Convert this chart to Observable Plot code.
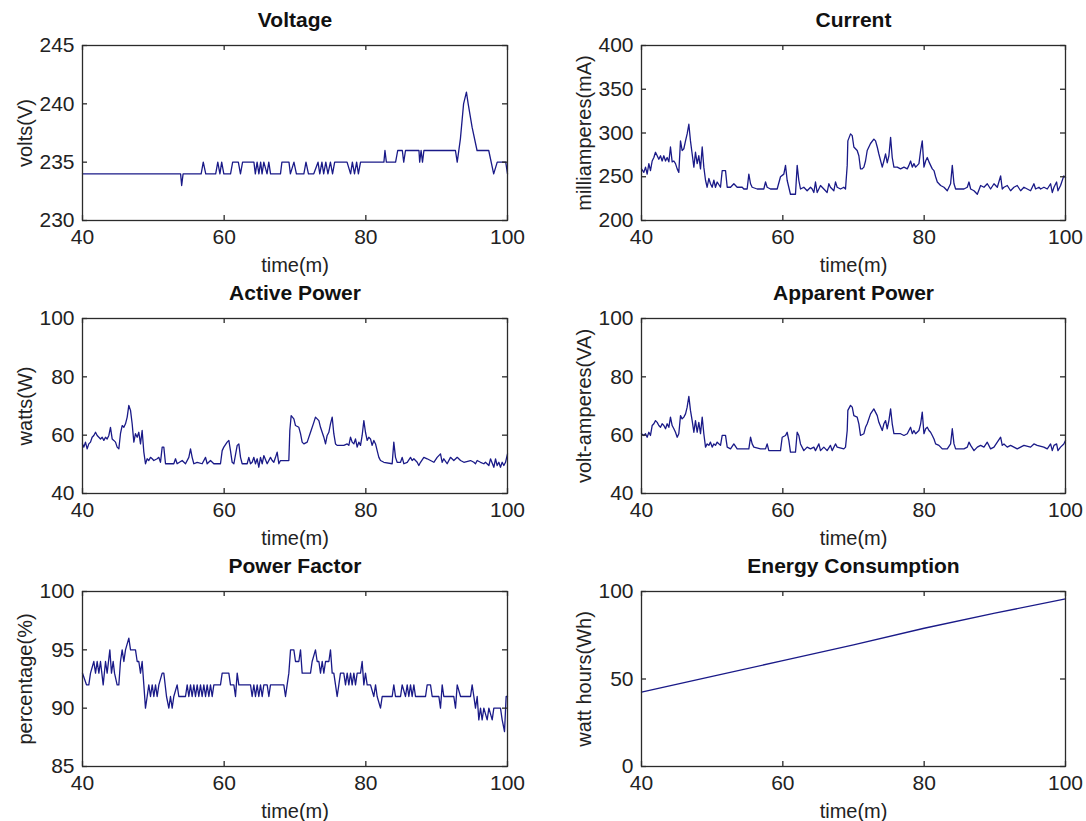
<!DOCTYPE html>
<html><head><meta charset="utf-8">
<script src="https://cdn.jsdelivr.net/npm/d3@7"></script>
<script src="https://cdn.jsdelivr.net/npm/@observablehq/plot@0.6"></script>
<style>
body{margin:0;background:#fff;}
#root{position:relative;width:1086px;height:821px;background:#fff;}
#root svg{position:absolute;overflow:visible;}
</style></head><body><div id="root"></div>
<script>
// ---------- data (time in minutes) ----------
const xTicks = [40, 60, 80, 100];

const voltT = [40,53.85,54.0,54.2,56.75,57.05,57.4,58.8,59.1,59.4,
59.65,59.95,60.9,61.2,62.0,62.3,62.6,64.2,64.4,64.65,
64.9,65.15,65.35,65.6,66.05,66.3,66.55,67.95,68.15,69.15,
69.35,69.85,70.2,71.25,71.55,71.9,72.65,73.25,73.5,73.8,
74.05,74.35,74.65,75.0,75.3,75.6,77.35,77.85,78.1,78.4,
78.7,78.95,79.25,79.7,82.55,82.7,82.9,84.2,84.5,85.15,
85.35,85.6,87.5,87.6,87.8,88.0,88.2,92.65,92.9,93.35,
93.8,94.2,94.45,95.0,95.7,97.35,98.05,98.55,99.75,100];
const voltV = [234,234,233,234,234,235,234,234,235,234,
235,234,234,235,235,234,235,235,234,235,
234,235,234,235,234,235,234,234,235,235,
234,235,234,234,235,234,234,235,234,235,
234,235,234,235,234,235,235,234,235,234,
235,234,235,235,235,236,235,235,236,236,
235,236,236,235,236,235,236,236,235,237,
240,241,240,238,236,236,234,235,235,234];
const voltTicks = [230, 235, 240, 245];

const currT = [40,40.33,40.57,40.8,41.04,41.27,41.51,41.75,41.98,42.22,
42.45,42.69,42.92,43.16,43.4,43.63,43.87,44.1,44.34,44.58,
44.81,45.05,45.28,45.52,45.75,45.99,46.23,46.46,46.7,46.93,
47.17,47.41,47.64,47.88,48.11,48.35,48.59,48.82,49.06,49.29,
49.53,49.76,50,50.24,50.47,50.71,51.18,51.42,51.89,52.13,
52.6,53.07,53.54,54.25,54.48,54.95,55.19,55.43,55.66,56.37,
57.31,57.55,57.78,58.25,59.2,59.67,60.14,60.38,60.61,61.08,
61.79,62.03,62.26,62.5,62.97,63.44,63.92,64.15,64.39,64.62,
64.86,65.33,65.8,66.27,66.51,66.74,67.22,67.45,67.69,68.16,
68.63,68.87,69.11,69.2,69.58,69.82,70.05,70.52,70.76,70.99,
71.23,71.47,71.7,71.94,72.41,72.88,73.12,73.36,73.59,74.07,
74.3,74.54,74.77,75.01,75.25,75.48,75.72,76.19,76.66,77.14,
77.61,77.84,78.08,78.32,78.55,78.79,79.03,79.26,79.5,79.73,
79.97,80.21,80.44,80.68,80.91,81.15,81.39,81.62,81.86,82.33,
82.8,83.27,83.74,83.98,84.22,84.45,85.16,85.63,86.1,86.34,
86.58,87.05,87.52,87.99,88.46,88.93,89.4,89.88,90.35,90.82,
91.05,91.29,91.76,92.23,92.7,93.17,93.65,94.12,94.59,95.06,
95.53,95.77,96.24,96.48,96.95,97.42,97.89,98.13,98.37,98.74,
98.93,99.3,99.76,100];
const currV = [259,255,261,253,265,257,268,272,278,274,
270,274,268,274,268,272,267,284,267,268,
265,259,255,291,280,282,291,299,310,291,
276,261,278,265,274,259,284,261,246,238,
248,242,238,246,238,244,238,257,257,238,
238,242,238,238,236,236,253,242,238,236,
236,244,238,236,236,250,253,263,246,230,
230,263,246,236,238,234,238,236,232,244,
232,240,236,232,242,238,234,244,238,236,
238,236,263,291,299,297,284,280,274,259,
259,261,268,280,288,293,291,284,276,261,
268,276,266,274,295,272,261,261,259,261,
259,263,268,261,265,261,263,265,280,291,
261,268,272,267,263,259,257,250,244,240,
238,234,242,263,242,236,236,236,238,244,
236,234,230,240,238,242,236,242,238,251,
236,238,240,234,238,240,234,238,236,234,
242,236,238,236,238,236,242,232,238,244,
234,240,251,249];
const currTicks = [200, 250, 300, 350, 400];

const activeT = [40,40.19,40.42,40.66,40.89,41.13,41.36,41.6,41.84,42.07,
42.31,42.54,42.78,43.01,43.25,43.48,43.72,43.95,44.19,44.42,
44.66,44.89,45.13,45.36,45.6,45.84,46.07,46.31,46.54,46.78,
47.01,47.25,47.48,47.72,47.95,48.19,48.42,48.66,48.89,49.13,
49.36,49.6,49.84,50.07,50.54,50.78,51.01,51.25,51.48,51.72,
52.89,53.13,53.36,54.07,54.54,55.01,55.25,55.48,55.72,56.19,
56.89,57.37,57.6,58.07,58.54,59.48,59.72,59.95,60.42,60.66,
60.89,61.13,61.37,61.84,62.07,62.31,62.54,63.25,63.48,63.72,
63.95,64.19,64.42,64.66,64.89,65.13,65.37,65.6,66.07,66.54,
66.78,67.01,67.25,67.48,67.72,67.95,69.13,69.27,69.46,69.84,
70.07,70.54,70.78,71.01,71.25,71.72,72.19,72.66,72.89,73.37,
73.6,74.07,74.31,74.54,74.78,75.01,75.25,75.48,75.72,75.95,
76.89,77.37,77.6,77.84,78.07,78.31,78.54,78.78,79.01,79.25,
79.48,79.72,79.95,80.19,80.42,80.66,80.89,81.13,81.37,81.6,
81.84,82.07,82.54,83.72,83.95,84.19,84.42,84.9,85.13,85.37,
85.84,86.31,86.54,86.78,87.25,87.48,87.72,88.19,88.66,89.13,
89.6,90.07,90.54,90.78,91.01,91.48,91.95,92.42,92.9,93.37,
93.84,94.78,95.25,95.48,95.72,96.19,96.66,96.89,97.37,97.6,
98.07,98.31,98.54,98.78,99.01,99.25,99.48,99.72,100];
const activeV = [57.0,55.9,57.6,55.3,57.0,57.6,59.3,59.9,61.0,59.9,
59.3,58.7,59.3,58.2,59.3,58.7,59.9,62.7,58.7,58.2,
57.6,55.9,55.3,60.5,63.3,62.7,63.9,66.2,70.2,68.5,
63.9,57.6,60.5,59.3,61.0,57.0,61.6,54.2,50.2,51.9,
51.3,52.4,51.9,51.3,51.9,52.4,50.7,55.9,55.9,50.2,
50.2,51.9,50.2,51.3,50.2,52.4,55.3,52.4,50.2,50.7,
50.2,52.4,50.2,51.3,50.2,50.2,54.7,55.9,57.6,58.2,
54.7,50.7,50.2,56.5,57.0,52.4,50.2,50.2,52.4,50.2,
50.7,52.4,50.2,51.9,49.0,52.4,50.2,53.0,50.2,52.4,
51.3,50.7,52.4,54.2,50.2,51.3,51.3,61.6,66.7,65.6,
63.3,62.7,60.5,57.6,57.0,57.6,61.0,64.4,66.2,65.0,
62.7,59.3,57.0,59.9,61.0,63.9,66.2,60.5,57.0,56.5,
56.5,57.0,56.5,59.3,57.6,57.0,58.7,55.9,57.6,56.5,
59.9,65.0,61.0,58.2,59.3,58.7,56.5,58.2,57.0,54.7,
52.4,51.3,50.7,50.2,57.6,52.4,50.7,50.7,52.4,50.2,
50.7,52.4,51.3,51.9,50.7,49.6,50.7,52.4,51.9,51.3,
50.7,52.4,53.6,50.7,51.9,50.2,52.4,51.3,52.4,51.3,
50.7,51.3,50.7,50.2,51.3,50.7,50.2,50.7,49.6,51.9,
49.0,51.9,49.6,50.7,49.0,50.7,49.6,50.7,53.6];
const powerTicks = [40, 60, 80, 100];

const apparentT = [40,40.33,40.57,40.8,41.04,41.27,41.51,41.75,41.98,42.22,
42.45,42.69,42.92,43.16,43.4,43.63,43.87,44.1,44.34,44.58,
44.81,45.05,45.28,45.52,45.75,45.99,46.23,46.46,46.7,46.93,
47.17,47.41,47.64,47.88,48.11,48.35,48.59,48.82,49.06,49.29,
49.53,49.76,50.0,50.24,50.47,50.71,51.18,51.42,51.89,52.13,
52.6,53.07,53.54,55.19,55.43,55.66,55.9,56.84,57.55,57.78,
58.02,59.67,59.91,60.38,60.61,60.85,61.08,61.79,62.03,62.26,
62.5,62.97,63.44,63.92,64.39,64.62,65.1,65.33,65.8,66.27,
66.74,66.98,67.45,67.69,68.63,68.87,69.11,69.2,69.58,69.82,
70.05,70.52,70.76,70.99,71.47,71.7,71.94,72.41,72.88,73.36,
73.59,74.07,74.3,74.54,74.77,75.01,75.25,75.48,75.72,76.66,
77.14,77.61,77.84,78.08,78.32,78.55,78.79,79.26,79.5,79.73,
79.97,80.21,80.44,80.68,80.91,81.15,81.39,81.62,82.09,82.56,
83.27,83.74,83.98,84.22,84.45,85.63,86.1,86.34,86.58,87.05,
87.52,87.99,88.46,88.93,89.4,89.88,90.35,90.82,91.05,91.29,
91.76,92.23,92.7,93.17,94.12,95.06,95.53,95.99,96.93,97.42,
97.89,98.13,98.37,98.74,98.93,99.3,99.76,100];
const apparentV = [60.5,59.9,60.5,59.3,61.0,59.9,63.3,63.9,65.0,64.4,
63.3,62.7,63.9,63.3,62.2,63.9,62.7,66.2,63.3,62.2,
61.0,59.3,60.5,66.7,65.6,66.2,67.3,69.6,73.3,68.5,
65.0,61.0,65.0,61.0,64.4,60.5,66.2,60.5,55.9,57.0,
56.5,57.6,55.9,57.0,56.5,57.6,56.5,59.9,59.9,55.9,
55.3,57.0,55.3,55.3,59.3,57.0,55.9,55.3,55.3,57.0,
54.7,54.7,59.3,59.9,61.0,58.2,54.2,54.2,61.0,59.9,
57.0,54.7,55.9,55.3,55.9,54.7,57.0,54.7,55.9,54.7,
56.5,54.7,57.0,55.9,55.3,55.9,61.6,68.5,70.2,69.6,
66.7,66.2,63.9,59.9,60.5,62.7,63.9,67.3,69.0,66.7,
64.4,61.6,63.9,65.0,62.2,65.0,69.0,63.9,60.5,60.5,
59.9,60.5,61.6,62.7,60.5,61.6,60.5,61.6,63.9,67.9,
60.5,62.2,62.7,61.6,61.0,59.9,58.7,57.0,56.5,55.3,
55.3,57.0,62.2,57.0,55.3,55.3,55.9,57.6,56.5,54.7,
55.9,56.5,55.9,57.6,55.3,55.9,57.6,59.3,56.5,57.0,
55.9,56.5,55.9,55.3,56.5,55.9,57.0,56.5,55.9,55.3,
57.0,54.7,56.5,57.0,54.7,55.9,57.0,58.2];

const pfT = [40,40.56,40.89,41.13,41.6,41.84,42.07,42.31,42.54,42.92,
43.25,43.48,43.86,44.09,44.33,44.52,44.89,45.13,45.36,45.6,
45.84,46.07,46.54,46.78,47.48,47.72,47.95,48.19,48.42,48.66,
48.89,49.13,49.36,49.6,49.84,50.07,50.31,50.54,50.78,51.25,
51.48,51.86,52.19,52.42,52.66,52.89,53.36,53.6,54.54,54.78,
55.01,55.25,55.48,55.72,55.95,56.19,56.42,56.66,56.89,57.13,
57.37,57.6,57.84,58.07,58.31,58.54,59.48,59.72,60.66,60.89,
61.37,61.6,61.84,62.07,63.72,63.95,64.19,64.42,64.66,64.89,
65.13,65.37,65.6,66.07,66.31,66.54,68.42,68.66,68.89,69.13,
69.37,69.84,70.07,70.54,70.78,71.01,72.19,72.42,72.89,73.13,
73.37,73.6,73.84,74.07,74.31,74.78,75.01,75.25,75.48,75.72,
75.95,76.19,76.42,76.89,77.13,77.37,77.6,77.84,78.07,78.31,
78.54,78.78,79.25,79.48,79.72,79.95,80.19,80.66,81.13,81.37,
81.6,82.07,82.31,83.72,83.95,84.19,84.9,85.13,85.6,85.84,
86.07,86.31,86.54,86.78,87.01,88.43,88.66,89.13,89.37,90.31,
90.54,90.78,91.01,92.42,92.66,92.9,93.37,94.78,95.01,95.25,
95.48,95.72,95.95,96.19,96.42,96.66,97.13,97.37,97.84,98.07,
99.01,99.25,99.58,99.81,100];
const pfV = [93,92,92,93,94,93,94,93,94,92,
94,93,95,93,94,93,92,92,94,95,
94,95,96,95,95,94,94,93,94,92,
90,91,92,91,92,91,92,91,92,93,
93,91,90,91,90,91,92,91,91,92,
91,92,91,92,91,92,91,92,91,92,
91,92,91,92,91,92,92,93,93,92,
92,91,93,92,92,91,92,91,92,91,
92,91,92,92,91,92,92,91,92,93,
95,95,94,94,95,93,93,94,95,94,
94,93,94,93,94,94,95,93,93,92,
91,92,93,93,92,93,92,93,92,93,
92,93,93,94,92,93,92,92,91,92,
91,90,91,91,92,91,91,92,91,92,
91,92,91,92,91,91,92,92,91,91,
90,92,91,91,90,92,91,91,92,91,
90,91,89,90,89,90,89,90,89,90,
90,89,88,91,91];
const pfTicks = [85, 90, 95, 100];

const energyT = [40, 50, 60, 70, 80, 90, 100];
const energyV = [42.5, 51.5, 60.5, 69.5, 79, 87.6, 95.8];
const energyTicks = [0, 50, 100];

// ---------- layout ----------
const panels = [
  {title:"Voltage", ylabel:"volts(V)", t:voltT, v:voltV, domain:[230,245], ticks:voltTicks, row:0, col:0},
  {title:"Current", ylabel:"milliamperes(mA)", t:currT, v:currV, domain:[200,400], ticks:currTicks, row:0, col:1},
  {title:"Active Power", ylabel:"watts(W)", t:activeT, v:activeV, domain:[40,100], ticks:powerTicks, row:1, col:0},
  {title:"Apparent Power", ylabel:"volt-amperes(VA)", t:apparentT, v:apparentV, domain:[40,100], ticks:powerTicks, row:1, col:1},
  {title:"Power Factor", ylabel:"percentage(%)", t:pfT, v:pfV, domain:[85,100], ticks:pfTicks, row:2, col:0},
  {title:"Energy Consumption", ylabel:"watt hours(Wh)", t:energyT, v:energyV, domain:[0,100], ticks:energyTicks, row:2, col:1}
];

const root = document.getElementById("root");
const W = 543, H = 273, PH = 175, MT = 45;
const axisColor = "#2b2b2b";
const font = "'Liberation Sans', Arial, Helvetica, sans-serif";

for (const cfg of panels) {
  const data = cfg.t.map((t, i) => ({t, v: cfg.v[i]}));
  const mL = cfg.col === 0 ? 82 : 98;
  const mR = cfg.col === 0 ? 36 : 21;
  const pw = W - mL - mR;
  const svg = Plot.plot({
    width: W, height: H,
    marginTop: MT, marginBottom: H - MT - PH, marginLeft: mL, marginRight: mR,
    x: {domain: [40, 100]},
    y: {domain: cfg.domain},
    style: {fontFamily: font, fontSize: "21px", color: "#222", background: "transparent", overflow: "visible"},
    marks: [
      Plot.line(data, {x: "t", y: "v", stroke: "#1a1a88", strokeWidth: 1.3}),
      Plot.frame({stroke: axisColor, strokeWidth: 1.3}),
      Plot.tickX(xTicks, {x: d => d, insetTop: PH - 5, stroke: axisColor, strokeWidth: 1.3}),
      Plot.tickX(xTicks, {x: d => d, insetBottom: PH - 5, stroke: axisColor, strokeWidth: 1.3}),
      Plot.tickY(cfg.ticks, {y: d => d, insetRight: pw - 5, stroke: axisColor, strokeWidth: 1.3}),
      Plot.tickY(cfg.ticks, {y: d => d, insetLeft: pw - 5, stroke: axisColor, strokeWidth: 1.3}),
      Plot.axisX(xTicks, {tickSize: 0, tickPadding: 9, fontSize: 21, label: null}),
      Plot.axisY(cfg.ticks, {tickSize: 0, tickPadding: 8, fontSize: 21, label: null}),
      Plot.text([cfg.title], {text: d => d, frameAnchor: "top", lineAnchor: "middle", dy: -25, fontSize: 21, fontWeight: "bold", fill: "#111"}),
      Plot.text(["time(m)"], {text: d => d, frameAnchor: "bottom", lineAnchor: "middle", dy: 45, fontSize: 20}),
      Plot.text([cfg.ylabel], {text: d => d, frameAnchor: "left", textAnchor: "middle", lineAnchor: "middle", dx: -57, rotate: -90, fontSize: 20})
    ]
  });
  svg.style.left = (cfg.col * W) + "px";
  svg.style.top = (cfg.row * H) + "px";
  root.appendChild(svg);
}
</script>
</body></html>
